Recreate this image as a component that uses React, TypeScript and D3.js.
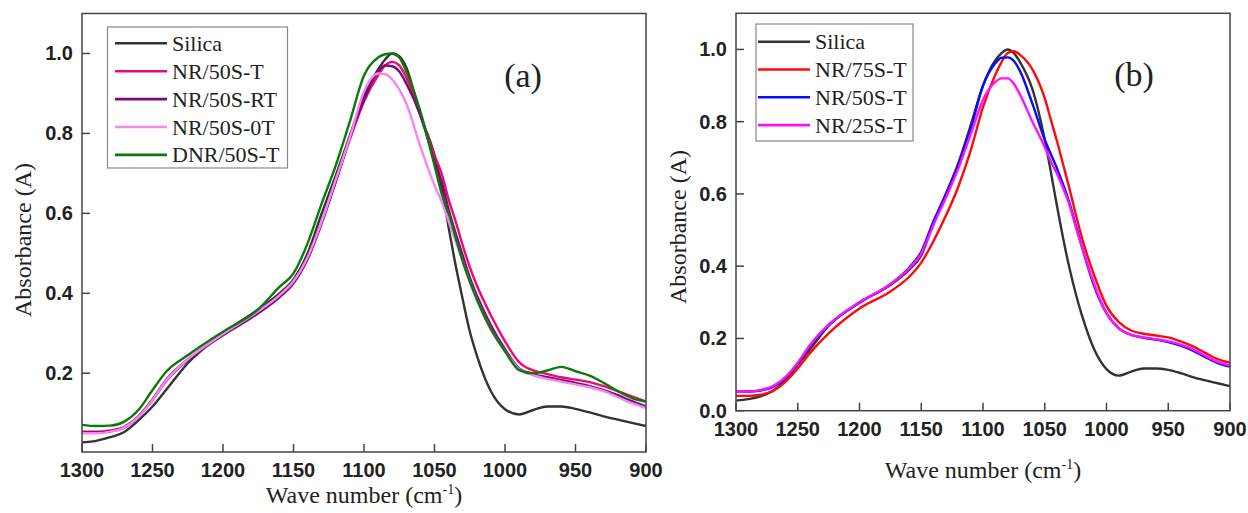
import React from "react";
import * as d3 from "d3";

const waves = [1300,1290,1280,1270,1260,1250,1240,1225,1200,1175,1160,1150,1140,1130,1120,1110,1100,1090,1085,1080,1075,1070,1060,1050,1045,1040,1035,1030,1025,1020,1010,1000,990,980,970,960,950,940,930,920,910,900];

// Panel (a)
const silicaA = [0.027,0.031,0.040,0.053,0.082,0.117,0.160,0.225,0.300,0.360,0.400,0.435,0.500,0.600,0.695,0.795,0.895,0.960,0.985,1.000,0.993,0.965,0.845,0.745,0.665,0.565,0.470,0.385,0.305,0.245,0.155,0.110,0.097,0.108,0.117,0.117,0.111,0.102,0.092,0.084,0.076,0.068];
const nr50tA = [0.054,0.054,0.057,0.066,0.092,0.135,0.185,0.235,0.297,0.352,0.395,0.430,0.490,0.580,0.680,0.785,0.880,0.945,0.970,0.979,0.970,0.940,0.845,0.745,0.700,0.635,0.580,0.520,0.466,0.420,0.345,0.280,0.228,0.207,0.198,0.190,0.184,0.178,0.168,0.155,0.142,0.129];
const nr50rtA = [0.052,0.052,0.055,0.064,0.090,0.133,0.182,0.233,0.295,0.350,0.390,0.425,0.485,0.575,0.680,0.790,0.885,0.955,0.970,0.968,0.955,0.925,0.845,0.730,0.680,0.610,0.550,0.495,0.440,0.395,0.320,0.260,0.212,0.198,0.190,0.183,0.176,0.168,0.158,0.145,0.130,0.117];
const nr500tA = [0.050,0.050,0.054,0.064,0.090,0.133,0.183,0.235,0.298,0.355,0.395,0.430,0.490,0.580,0.685,0.790,0.905,0.950,0.948,0.935,0.910,0.875,0.767,0.670,0.630,0.580,0.530,0.480,0.430,0.385,0.310,0.255,0.210,0.195,0.186,0.179,0.172,0.165,0.155,0.140,0.125,0.113];
const dnr50tA = [0.071,0.068,0.069,0.079,0.108,0.158,0.205,0.245,0.304,0.360,0.416,0.450,0.525,0.625,0.720,0.830,0.945,0.990,0.998,1.000,0.990,0.955,0.855,0.720,0.650,0.600,0.540,0.480,0.430,0.385,0.310,0.255,0.208,0.200,0.207,0.216,0.205,0.194,0.176,0.155,0.138,0.129];

// Panel (b)
const silicaB = [0.028,0.032,0.040,0.055,0.085,0.128,0.170,0.235,0.300,0.348,0.390,0.430,0.520,0.600,0.685,0.790,0.900,0.970,0.990,1.000,0.990,0.965,0.890,0.750,0.660,0.565,0.475,0.395,0.325,0.265,0.170,0.115,0.097,0.108,0.117,0.117,0.113,0.104,0.093,0.084,0.076,0.068];
const nr75tB = [0.041,0.041,0.044,0.055,0.080,0.117,0.160,0.214,0.283,0.330,0.370,0.410,0.470,0.540,0.620,0.720,0.840,0.930,0.965,0.990,0.995,0.985,0.945,0.865,0.805,0.745,0.680,0.615,0.545,0.480,0.375,0.290,0.245,0.222,0.213,0.208,0.203,0.192,0.178,0.160,0.143,0.133];
const nr50tB = [0.053,0.053,0.056,0.066,0.090,0.131,0.180,0.237,0.299,0.350,0.395,0.440,0.525,0.600,0.680,0.780,0.900,0.962,0.977,0.978,0.968,0.940,0.850,0.750,0.710,0.670,0.625,0.575,0.515,0.455,0.345,0.270,0.228,0.210,0.202,0.197,0.190,0.180,0.166,0.148,0.132,0.122];
const nr25tB = [0.053,0.053,0.057,0.068,0.093,0.133,0.182,0.238,0.300,0.350,0.393,0.435,0.515,0.590,0.670,0.765,0.860,0.910,0.920,0.920,0.905,0.875,0.800,0.730,0.690,0.655,0.615,0.570,0.510,0.455,0.350,0.270,0.228,0.210,0.203,0.198,0.192,0.183,0.170,0.152,0.135,0.125];

const xTicks = [1300,1250,1200,1150,1100,1050,1000,950,900];
const yTicksA = [0.2,0.4,0.6,0.8,1.0];
const yTicksB = [0.0,0.2,0.4,0.6,0.8,1.0];

const namesA = ["Silica","NR/50S-T","NR/50S-RT","NR/50S-0T","DNR/50S-T"];
const colorsA = ["#333333","#f2086e","#7a0a7a","#f585f0","#0a7a0a"];
const valuesA = [silicaA,nr50tA,nr50rtA,nr500tA,dnr50tA];

const namesB = ["Silica","NR/75S-T","NR/50S-T","NR/25S-T"];
const colorsB = ["#333333","#ff0a0a","#0a0aff","#ff10ff"];
const valuesB = [silicaB,nr75tB,nr50tB,nr25tB];

const TICK_FONT = { fontFamily: "'Liberation Sans', Arial, Helvetica, sans-serif", fontWeight: 700 as const };
const SERIF = { fontFamily: "'Liberation Serif', 'Times New Roman', serif" };

type PanelProps = {
  id: string;
  x0: number; x1: number; yTop: number; yBot: number;
  yMin: number; yMax: number;
  yTicks: number[];
  names: string[]; colors: string[]; values: number[][];
  legend: { x: number; y: number; w: number; h: number; lineX: number; first: number; step: number };
  tag: string; tagX: number; tagY: number;
  xTitleY: number; yTitleX: number; yTitleY: number;
};

function Panel(p: PanelProps) {
  const x = d3.scaleLinear().domain([1300, 900]).range([p.x0, p.x1]);
  const y = d3.scaleLinear().domain([p.yMin, p.yMax]).range([p.yBot, p.yTop]);
  const line = d3.line<[number, number]>()
    .x(d => x(d[0]))
    .y(d => y(d[1]))
    .curve(d3.curveMonotoneX);
  const fmt = d3.format(".1f");
  const tickLen = 8;
  return (
    <g>
      <defs>
        <clipPath id={"clip" + p.id}>
          <rect x={p.x0} y={p.yTop} width={p.x1 - p.x0} height={p.yBot - p.yTop} />
        </clipPath>
      </defs>
      <g clipPath={`url(#clip${p.id})`}>
        {p.values.map((vals, i) => (
          <path key={i} d={line(waves.map((w, j) => [w, vals[j]] as [number, number])) || ""}
            fill="none" stroke={p.colors[i]} strokeWidth={2.4} strokeLinejoin="round" />
        ))}
      </g>
      <rect x={p.x0} y={p.yTop} width={p.x1 - p.x0} height={p.yBot - p.yTop}
        fill="none" stroke="#444" strokeWidth={1.5} />
      {xTicks.map(t => (
        <g key={t}>
          <line x1={x(t)} x2={x(t)} y1={p.yBot} y2={p.yBot - tickLen} stroke="#444" strokeWidth={1.5} />
          <text x={x(t)} y={p.yBot + 25} textAnchor="middle" style={TICK_FONT}
            fontSize={20} fill="#222">{t}</text>
        </g>
      ))}
      {p.yTicks.map(t => (
        <g key={t}>
          <line x1={p.x0} x2={p.x0 + tickLen} y1={y(t)} y2={y(t)} stroke="#444" strokeWidth={1.5} />
          <text x={p.x0 - 9} y={y(t) + 7} textAnchor="end" style={TICK_FONT}
            fontSize={20} fill="#222">{fmt(t)}</text>
        </g>
      ))}
      <rect x={p.legend.x} y={p.legend.y} width={p.legend.w} height={p.legend.h}
        fill="white" stroke="#888" strokeWidth={1.2} />
      {p.names.map((n, i) => {
        const cy = p.legend.first + i * p.legend.step;
        return (
          <g key={n}>
            <line x1={p.legend.lineX} x2={p.legend.lineX + 52} y1={cy} y2={cy}
              stroke={p.colors[i]} strokeWidth={2.6} />
            <text x={p.legend.lineX + 57} y={cy + 7.5} style={SERIF} fontSize={22} fill="#222">{n}</text>
          </g>
        );
      })}
      <text x={p.tagX} y={p.tagY} textAnchor="middle" style={SERIF} fontSize={34} fill="#222">{p.tag}</text>
      <text x={(p.x0 + p.x1) / 2} y={p.xTitleY} textAnchor="middle" style={SERIF} fontSize={24} fill="#222">
        Wave number (cm<tspan dy={-9} fontSize={14}>-1</tspan><tspan dy={9}>)</tspan>
      </text>
      <text transform={`translate(${p.yTitleX},${p.yTitleY}) rotate(-90)`} textAnchor="middle"
        style={SERIF} fontSize={24} fill="#222">Absorbance (A)</text>
    </g>
  );
}

export default function App() {
  return (
    <svg width={1248} height={513} style={{ position: "absolute", left: 0, top: 0, background: "white" }}>
      <Panel id="a" x0={82} x1={646} yTop={13.5} yBot={452} yMin={0.003} yMax={1.1}
        yTicks={yTicksA} names={namesA} colors={colorsA} values={valuesA}
        legend={{ x: 107.5, y: 27, w: 180, h: 141, lineX: 115, first: 43.3, step: 27.9 }}
        tag="(a)" tagX={523} tagY={87}
        xTitleY={503} yTitleX={31} yTitleY={240} />
      <Panel id="b" x0={736} x1={1230} yTop={13.3} yBot={410.7} yMin={0} yMax={1.1}
        yTicks={yTicksB} names={namesB} colors={colorsB} values={valuesB}
        legend={{ x: 756, y: 24, w: 157, h: 117, lineX: 758, first: 41.7, step: 27.8 }}
        tag="(b)" tagX={1134} tagY={86}
        xTitleY={478} yTitleX={686} yTitleY={227} />
    </svg>
  );
}
